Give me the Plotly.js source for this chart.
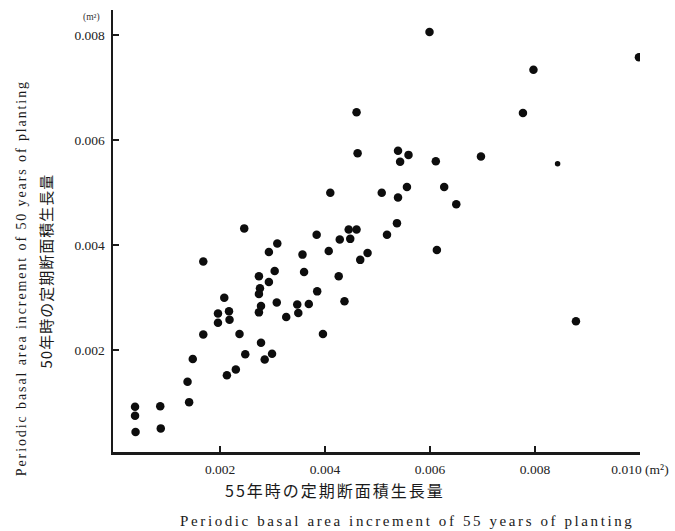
<!DOCTYPE html>
<html>
<head>
<meta charset="utf-8">
<script src="https://cdn.plot.ly/plotly-3.0.1.min.js"></script>
<style>
  html, body { margin: 0; padding: 0; background: #fff; }
  #chart { width: 675px; height: 531px; }
  /* widen the spacing of the axis captions */
  g.annotation[data-index="1"] text { letter-spacing: 2px; }
  g.annotation[data-index="2"] text { letter-spacing: 2.6px; }
  g.annotation[data-index="3"] text { letter-spacing: 1.9px; }
  g.annotation[data-index="4"] text { letter-spacing: 1px; }
</style>
</head>
<body>
<div id="chart"></div>
<script>
// Periodic basal area increment per tree (m²): age 55 (x) against age 50 (y)
const inc55 = [
  0.00246, 0.00309, 0.00293, 0.00384, 0.00428, 0.00445, 0.00448, 0.00407,
  0.00357, 0.00168, 0.00304, 0.00360, 0.00274, 0.00426, 0.00293, 0.00276,
  0.00274, 0.00385, 0.00208, 0.00437, 0.00308, 0.00347, 0.00369, 0.00278,
  0.00196, 0.00217, 0.00274, 0.00349, 0.00326, 0.00196, 0.00218, 0.00168,
  0.00237, 0.00396, 0.00278, 0.00148, 0.00248, 0.00299, 0.00285, 0.00230,
  0.00213, 0.00138, 0.00141, 0.00038, 0.00038, 0.00086, 0.00039, 0.00087,
  0.00599, 0.00998, 0.00797, 0.00460, 0.00777, 0.00462, 0.00539, 0.00559,
  0.00543, 0.00611, 0.00697, 0.00843, 0.00410, 0.00508, 0.00556, 0.00627,
  0.00539, 0.00650, 0.00460, 0.00537, 0.00518, 0.00481, 0.00467, 0.00613,
  0.00878
];
const inc50 = [
  0.00432, 0.00403, 0.00387, 0.00420, 0.00411, 0.00430, 0.00412, 0.00389,
  0.00382, 0.00369, 0.00351, 0.00349, 0.00341, 0.00341, 0.00330, 0.00318,
  0.00307, 0.00312, 0.00300, 0.00293, 0.00291, 0.00287, 0.00288, 0.00284,
  0.00270, 0.00274, 0.00272, 0.00271, 0.00263, 0.00252, 0.00258, 0.00230,
  0.00231, 0.00231, 0.00214, 0.00183, 0.00192, 0.00193, 0.00182, 0.00163,
  0.00152, 0.00140, 0.00101, 0.00092, 0.00075, 0.00093, 0.00044, 0.00051,
  0.00806, 0.00758, 0.00734, 0.00653, 0.00652, 0.00575, 0.00580, 0.00572,
  0.00559, 0.00560, 0.00569, 0.00555, 0.00500, 0.00500, 0.00511, 0.00511,
  0.00491, 0.00478, 0.00430, 0.00442, 0.00420, 0.00385, 0.00372, 0.00391,
  0.00255
];
// one faintly printed dot is drawn smaller
const dotSize = inc55.map((v, i) => (i === 59 ? 5.5 : 8.5));

const xTickVals = [0.002, 0.004, 0.006, 0.008, 0.010];
const xTickText = ['0.002', '0.004', '0.006', '0.008', '0.010 (m²)'];
const yTickVals = [0.002, 0.004, 0.006, 0.008];
const yTickText = ['0.002', '0.004', '0.006', '0.008'];

const serif = 'Liberation Serif, DejaVu Serif, serif';
const cjk = 'Noto Sans CJK JP, Noto Sans CJK SC, sans-serif';
const ink = '#1a1a1a';

const trace = {
  type: 'scatter',
  mode: 'markers',
  x: inc55,
  y: inc50,
  marker: { color: '#0d0d0d', opacity: 1, size: dotSize, line: { width: 0 } },
  hoverinfo: 'x+y'
};

const axisCommon = {
  showgrid: false,
  zeroline: false,
  showline: true,
  linecolor: ink,
  linewidth: 2.5,
  ticks: 'inside',
  ticklen: 6,
  tickwidth: 1.6,
  tickcolor: ink,
  tickmode: 'array',
  tickfont: { family: serif, size: 13.5, color: '#222' }
};

const caption = (text, x, y, font, angle) => ({
  text, x, y, font,
  xref: 'paper', yref: 'paper',
  xanchor: 'center', yanchor: 'middle',
  textangle: angle || 0,
  showarrow: false
});

const layout = {
  width: 675,
  height: 531,
  margin: { l: 113, r: 35, t: 10, b: 79 },
  paper_bgcolor: '#fff',
  plot_bgcolor: '#fff',
  showlegend: false,
  xaxis: Object.assign({}, axisCommon, {
    range: [-0.00004, 0.0100],
    tickvals: xTickVals,
    ticktext: xTickText,
    ticklabelstandoff: 3
  }),
  yaxis: Object.assign({}, axisCommon, {
    range: [0.00006, 0.00848],
    tickvals: yTickVals,
    ticktext: yTickText,
    ticklabelstandoff: 3
  }),
  annotations: [
    caption('(m²)', -0.04, 0.982, { family: serif, size: 9.5, color: '#333' }),
    caption('55年時の定期断面積生長量', 0.421, -0.086,
      { family: cjk, size: 16, color: ink }),
    caption('Periodic basal area increment of 55 years of planting', 0.558, -0.156,
      { family: serif, size: 15, color: ink }),
    caption('Periodic basal area increment of 50 years of planting', -0.1727, 0.394,
      { family: serif, size: 14, color: ink }, -90),
    caption('50年時の定期断面積生長量', -0.129, 0.4095,
      { family: cjk, size: 15, color: ink }, -90)
  ]
};

Plotly.newPlot('chart', [trace], layout, { staticPlot: true, displayModeBar: false });
</script>
</body>
</html>
